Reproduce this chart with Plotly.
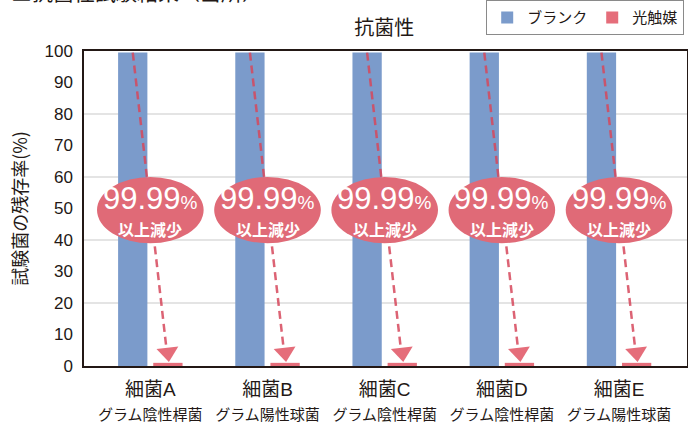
import plotly.graph_objects as go

# --- data -------------------------------------------------------------
bacteria = ["細菌A", "細菌B", "細菌C", "細菌D", "細菌E"]
gram_types = ["グラム陰性桿菌", "グラム陽性球菌", "グラム陰性桿菌", "グラム陰性桿菌", "グラム陽性球菌"]
blank_values = [99.5, 99.5, 99.5, 99.5, 99.5]
photocat_values = [1.0, 1.0, 1.0, 1.0, 1.0]
reduction_text = ["99.99", "99.99", "99.99", "99.99", "99.99"]
y_ticks = [0, 10, 20, 30, 40, 50, 60, 70, 80, 90, 100]
grid_levels = [20, 40, 60, 80]

# --- style ------------------------------------------------------------
BLUE = "#7b9bcb"
RED = "#e56d7a"
BUBBLE = "#e06a77"
ARROW = "rgba(214,72,92,0.85)"
INK = "#231815"
FONT = "Liberation Sans, Noto Sans CJK JP, sans-serif"
JP = "Noto Sans CJK JP, sans-serif"
BAR_W = 0.25
OFFSET = 0.15

x = list(range(len(bacteria)))
x_blank = [i - OFFSET for i in x]
x_cat = [i + OFFSET for i in x]

fig = go.Figure()
fig.add_trace(go.Bar(x=x_blank, y=blank_values, width=BAR_W, name="ブランク",
                     marker=dict(color=BLUE, line=dict(width=0))))
fig.add_trace(go.Bar(x=x_cat, y=photocat_values, width=BAR_W, name="光触媒",
                     marker=dict(color=RED, line=dict(width=0))))

# dashed arrows from the blank bar top down to the photocatalyst bar
for xb, xc, yb, yc in zip(x_blank, x_cat, blank_values, photocat_values):
    y_end = yc + 4.0
    fig.add_trace(go.Scatter(
        x=[xb, xb + (xc - xb) * (yb - y_end) / (yb - yc - 0.5)], y=[yb, y_end],
        mode="lines", line=dict(color=ARROW, width=2.5, dash="8px,5px"),
        showlegend=False, hoverinfo="skip"))
    fig.add_trace(go.Scatter(
        x=[xc], y=[yc + 3.3], mode="markers",
        marker=dict(symbol="triangle-down", size=19, color=RED, angle=-6,
                    line=dict(width=0)),
        showlegend=False, hoverinfo="skip"))

shapes = []
for g in grid_levels:
    shapes.append(dict(type="line", xref="paper", x0=0, x1=1, yref="y", y0=g, y1=g,
                       line=dict(color="#c9c9c9", width=1), layer="below"))

annotations = []
for xi, txt in zip(x, reduction_text):
    shapes.append(dict(type="circle", xref="x", yref="y",
                       x0=xi - 0.455, x1=xi + 0.455, y0=39, y1=60,
                       fillcolor=BUBBLE, line=dict(width=0), layer="above"))
    annotations.append(dict(x=xi, y=53.2, xref="x", yref="y", showarrow=False,
                            text=f"{txt}<span style='font-size:19px'>%</span>",
                            font=dict(family=FONT, size=31, color="white")))
    annotations.append(dict(x=xi, y=43.6, xref="x", yref="y", showarrow=False,
                            text="<b>以上減少</b>",
                            font=dict(family=JP, size=16, color="white")))

# heading above the chart
annotations.append(dict(x=-0.125, y=1.19, xref="paper", yref="paper",
                        xanchor="left", yanchor="middle", showarrow=False,
                        text="■抗菌性試験結果（当所）",
                        font=dict(family=JP, size=21, color=INK)))

tick_text = [f"{b}<br><span style='font-size:15px'>{g}</span>"
             for b, g in zip(bacteria, gram_types)]

fig.update_layout(
    width=688, height=424,
    margin=dict(l=84, r=1, t=51, b=58, autoexpand=False),
    paper_bgcolor="white", plot_bgcolor="white",
    font=dict(family=FONT, color=INK),
    title=dict(text="抗菌性", x=0.498, xref="paper", xanchor="center",
               y=0.935, yanchor="middle",
               font=dict(family=JP, size=20, color=INK)),
    barmode="overlay",
    showlegend=True,
    legend=dict(orientation="h", x=0.667, xanchor="left", y=1.05, yanchor="bottom",
                bordercolor="#8a8a8a", borderwidth=1, bgcolor="white",
                font=dict(family=JP, size=15, color=INK),
                itemwidth=30, traceorder="normal"),
    xaxis=dict(range=[-0.566, 4.58], tickmode="array", tickvals=x, ticktext=tick_text,
               showgrid=False, zeroline=False, showline=True, linecolor=INK,
               linewidth=1.5, mirror=True, ticks="outside", ticklen=5,
               tickcolor="rgba(0,0,0,0)",
               tickfont=dict(family=FONT, size=19, color=INK)),
    yaxis=dict(range=[0, 100], tickmode="array", tickvals=y_ticks,
               showgrid=False, zeroline=False, showline=True, linecolor=INK,
               linewidth=1.5, mirror=True, ticks="", ticklabelstandoff=6,
               tickfont=dict(family=FONT, size=17, color=INK),
               title=dict(text="試験菌の残存率(%)", standoff=12,
                          font=dict(family=JP, size=18, color=INK))),
    shapes=shapes,
    annotations=annotations,
)

fig.write_html("out.html")
